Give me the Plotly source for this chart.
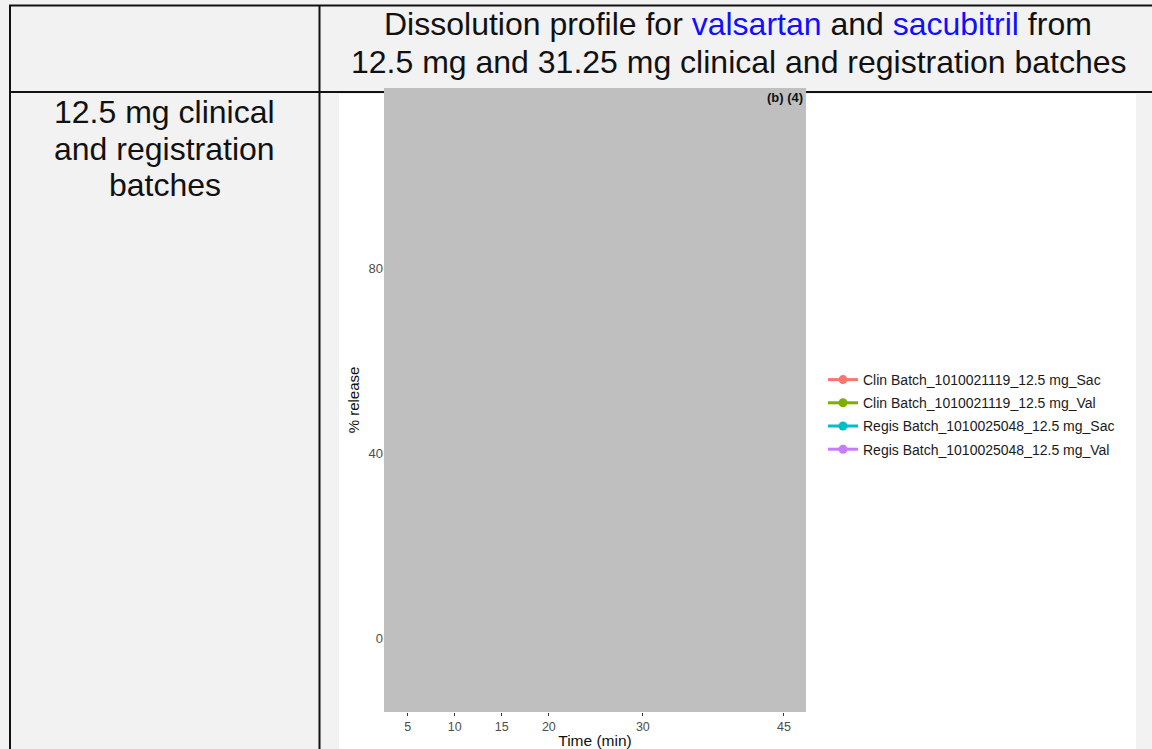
import plotly.graph_objects as go

# ---- data (the plotted values are redacted "(b) (4)" in the source; only legend/axes visible)
time_points = [5, 10, 15, 20, 30, 45]
series_names = [
    "Clin Batch_1010021119_12.5 mg_Sac",
    "Clin Batch_1010021119_12.5 mg_Val",
    "Regis Batch_1010025048_12.5 mg_Sac",
    "Regis Batch_1010025048_12.5 mg_Val",
]
series_values = [
    [None, None, None, None, None, None],
    [None, None, None, None, None, None],
    [None, None, None, None, None, None],
    [None, None, None, None, None, None],
]
series_colors = ["#F8766D", "#7CAE00", "#00BFC4", "#C77CFF"]
y_ticks = [0, 40, 80]

W, H = 1152, 749


def px(x):
    return x / W


def py(y):
    return 1 - y / H


fig = go.Figure()
for name, vals, col in zip(series_names, series_values, series_colors):
    fig.add_trace(go.Scatter(
        x=time_points, y=vals, name=name, mode="lines+markers",
        line=dict(color=col, width=3), marker=dict(color=col, size=9),
        legendgroup=name,
    ))

FONT = "Liberation Sans, Arial, sans-serif"
BG = "#f2f2f2"
LINE = "#111111"

shapes = [
    # white chart image area
    dict(type="rect", xref="paper", yref="paper", x0=px(339), x1=px(1136), y0=py(749), y1=py(94),
         fillcolor="white", line=dict(width=0), layer="below"),
    # table lines
    dict(type="line", xref="paper", yref="paper", x0=px(9), x1=1, y0=py(5.5), y1=py(5.5),
         line=dict(color=LINE, width=2)),
    dict(type="line", xref="paper", yref="paper", x0=px(9), x1=1, y0=py(92), y1=py(92),
         line=dict(color=LINE, width=2), layer="below"),
    dict(type="line", xref="paper", yref="paper", x0=px(10), x1=px(10), y0=py(5), y1=0,
         line=dict(color=LINE, width=2)),
    dict(type="line", xref="paper", yref="paper", x0=px(319.5), x1=px(319.5), y0=py(5), y1=0,
         line=dict(color=LINE, width=2)),
    # redaction box over the plotting panel
    dict(type="rect", xref="x domain", yref="y domain", x0=0, x1=1, y0=0, y1=1,
         fillcolor="#bfbfbf", line=dict(width=0), layer="above"),
]

TXT = dict(family=FONT, size=32, color="#111111")
annotations = [
    dict(text='Dissolution profile for <span style="color:#1010ff">valsartan</span> and '
              '<span style="color:#1010ff">sacubitril</span> from',
         x=px(738), y=py(24), xref="paper", yref="paper", showarrow=False,
         xanchor="center", yanchor="middle", font=TXT),
    dict(text="12.5 mg and 31.25 mg clinical and registration batches",
         x=px(739), y=py(62), xref="paper", yref="paper", showarrow=False,
         xanchor="center", yanchor="middle", font=TXT),
    dict(text="12.5 mg clinical", x=px(164.5), y=py(112), xref="paper", yref="paper",
         showarrow=False, xanchor="center", yanchor="middle", font=TXT),
    dict(text="and registration", x=px(164.5), y=py(149), xref="paper", yref="paper",
         showarrow=False, xanchor="center", yanchor="middle", font=TXT),
    dict(text="batches", x=px(164.5), y=py(185), xref="paper", yref="paper",
         showarrow=False, xanchor="center", yanchor="middle", font=TXT),
    dict(text="<b>(b) (4)</b>", x=px(805), y=py(97), xref="paper", yref="paper",
         showarrow=False, xanchor="right", yanchor="middle",
         font=dict(family=FONT, size=13, color="#111111")),
]

fig.update_layout(
    width=W, height=H, autosize=False,
    margin=dict(l=0, r=0, t=0, b=0, pad=0),
    paper_bgcolor=BG,
    plot_bgcolor="#bfbfbf",
    shapes=shapes,
    annotations=annotations,
    showlegend=True,
    legend=dict(
        x=px(823), y=py(414.5), xanchor="left", yanchor="middle",
        bgcolor="rgba(0,0,0,0)", font=dict(family=FONT, size=14, color="#1a1a1a"),
        tracegroupgap=2, itemwidth=30,
    ),
    xaxis=dict(
        domain=[px(384), px(806)], range=[2.47, 47.35],
        tickvals=time_points, ticktext=[str(t) for t in time_points],
        ticks="outside", ticklen=3, tickwidth=1, tickcolor="#333333",
        showgrid=False, zeroline=False, showline=False,
        tickfont=dict(family=FONT, size=12.5, color="#4d4d4d"),
        title=dict(text="Time (min)", font=dict(family=FONT, size=15.5, color="#111111"), standoff=3),
    ),
    yaxis=dict(
        domain=[py(712), py(88)], range=[-16, 119],
        tickvals=y_ticks, ticktext=[str(t) for t in y_ticks],
        ticks="", showgrid=False, zeroline=False, showline=False,
        tickfont=dict(family=FONT, size=13, color="#4d4d4d"),
        title=dict(text="% release", font=dict(family=FONT, size=15, color="#111111"), standoff=5),
    ),
)

fig.write_html("out.html")
